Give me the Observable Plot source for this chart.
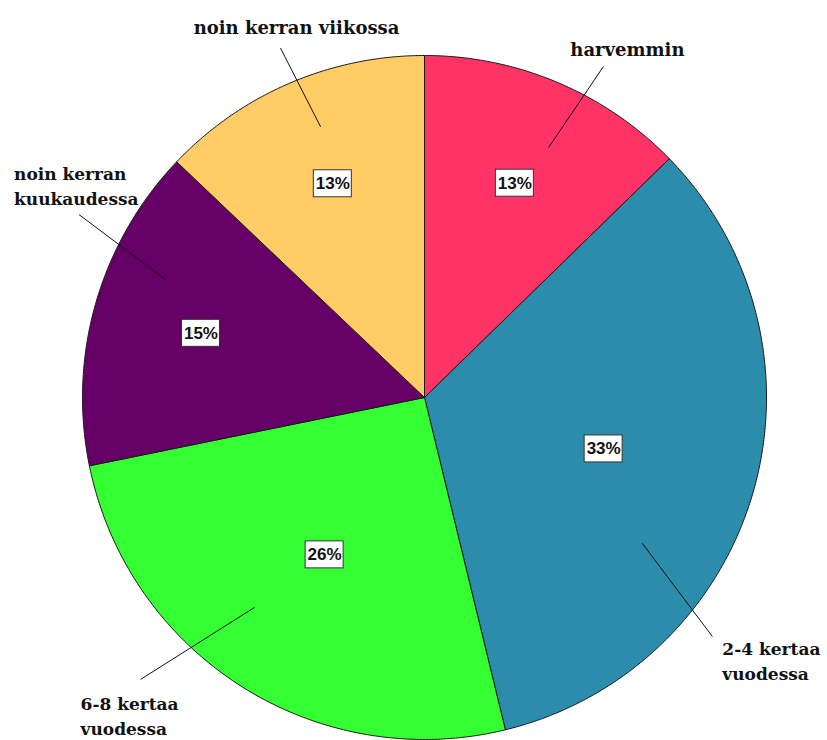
<!DOCTYPE html>
<html><head><meta charset="utf-8">
<script src="https://cdn.jsdelivr.net/npm/d3@7"></script>
<script src="https://cdn.jsdelivr.net/npm/@observablehq/plot@0.6"></script>
<style>body{margin:0;background:#fff}</style>
</head><body><div id="chart"></div>
<script>
// ---- data ----
const categories = ["harvemmin", "2-4 kertaa vuodessa", "6-8 kertaa vuodessa", "noin kerran kuukaudessa", "noin kerran viikossa"];
const displayLabels = ["harvemmin", "2-4 kertaa\nvuodessa", "6-8 kertaa\nvuodessa", "noin kerran\nkuukaudessa", "noin kerran viikossa"];
const shares = [12.7, 33.5, 25.6, 15.3, 12.9];
const pctLabels = ["13%", "33%", "26%", "15%", "13%"];
const colors = ["#FF3366", "#2B8CAB", "#33FF33", "#660066", "#FFCC66"];

// ---- layout (label placement, pixels / polar in units of radius) ----
const W = 827, H = 740, CX = 424, CY = 397, R = 342;
const leaderLayout = [
  {inDeg: 26.4, inR: 0.816, outDeg: 28.4, outR: 1.10, anchor: "middle", dx: 24, dy: -19},
  {inDeg: 123.8, inR: 0.766, outDeg: 129.7, outR: 1.094, anchor: "start", dx: 10, dy: 23},
  {inDeg: 219, inR: 0.79, outDeg: 225.2, outR: 1.17, anchor: "start", dx: -60, dy: 35},
  {inDeg: 294.5, inR: 0.833, outDeg: 297.9, outR: 1.143, anchor: "start", dx: -65, dy: -30},
  {inDeg: 339, inR: 0.848, outDeg: 337.6, outR: 1.105, anchor: "middle", dx: 16, dy: -22}
];

const total = d3.sum(shares);
let acc = 0;
const sliceInfo = categories.map((c, i) => {
  const a0 = acc / total * 2 * Math.PI;
  acc += shares[i];
  const a1 = acc / total * 2 * Math.PI;
  return {cat: c, i, a0, a1, mid: (a0 + a1) / 2};
});

const polyPts = sliceInfo.flatMap(s => {
  const pts = [{cat: s.cat, x: 0, y: 0}];
  const n = Math.max(2, Math.ceil((s.a1 - s.a0) / (Math.PI / 360)));
  for (let k = 0; k <= n; k++) {
    const a = s.a0 + (s.a1 - s.a0) * k / n;
    pts.push({cat: s.cat, x: Math.sin(a), y: Math.cos(a)});
  }
  pts.push({cat: s.cat, x: 0, y: 0});
  return pts;
});

const bw = 19 / R, bh = 13.5 / R;
const pctData = sliceInfo.map(s => {
  const r = shares[s.i] < 20 ? 0.68 : 0.545;
  return {text: pctLabels[s.i], x: r * Math.sin(s.mid), y: r * Math.cos(s.mid)};
});

const rad = d => d * Math.PI / 180;
const leaders = leaderLayout.map((L, i) => {
  const x1 = L.inR * Math.sin(rad(L.inDeg)), y1 = L.inR * Math.cos(rad(L.inDeg));
  const x2 = L.outR * Math.sin(rad(L.outDeg)), y2 = L.outR * Math.cos(rad(L.outDeg));
  return {x1, y1, x2, y2, anchor: L.anchor, tx: x2 + L.dx / R, ty: y2 - L.dy / R, text: displayLabels[i]};
});

const serif = "'DejaVu Serif', 'Liberation Serif', serif";
const sans = "'Liberation Sans Narrow', 'Liberation Sans', Arial, sans-serif";

const chart = Plot.plot({
  width: W, height: H,
  marginLeft: CX - R, marginRight: W - (CX + R), marginTop: CY - R, marginBottom: H - (CY + R),
  x: {domain: [-1, 1], axis: null},
  y: {domain: [-1, 1], axis: null},
  color: {domain: categories, range: colors},
  style: {background: "white", overflow: "visible"},
  marks: [
    Plot.line(polyPts, {x: "x", y: "y", z: "cat", fill: "cat", stroke: "#1a1a1a", strokeWidth: 1, strokeLinejoin: "round"}),
    Plot.link(leaders, {x1: "x1", y1: "y1", x2: "x2", y2: "y2", stroke: "#111", strokeWidth: 1}),
    Plot.rect(pctData, {x1: d => d.x - bw, x2: d => d.x + bw, y1: d => d.y - bh, y2: d => d.y + bh, fill: "white", stroke: "#333", strokeWidth: 1}),
    Plot.text(pctData, {x: "x", y: "y", text: "text", fontSize: 17, fontWeight: "bold", fontFamily: sans, fill: "#111"}),
    Plot.text(leaders.filter(d => d.anchor === "middle"), {x: "tx", y: "ty", text: "text", textAnchor: "middle", fontSize: 18, fontWeight: "bold", fontFamily: serif, fill: "#111", lineHeight: 1.39}),
    Plot.text(leaders.filter(d => d.anchor === "start"), {x: "tx", y: "ty", text: "text", textAnchor: "start", fontSize: 17, fontWeight: "bold", fontFamily: serif, fill: "#111", lineHeight: 1.47})
  ]
});
document.getElementById("chart").appendChild(chart);
</script>
</body></html>
